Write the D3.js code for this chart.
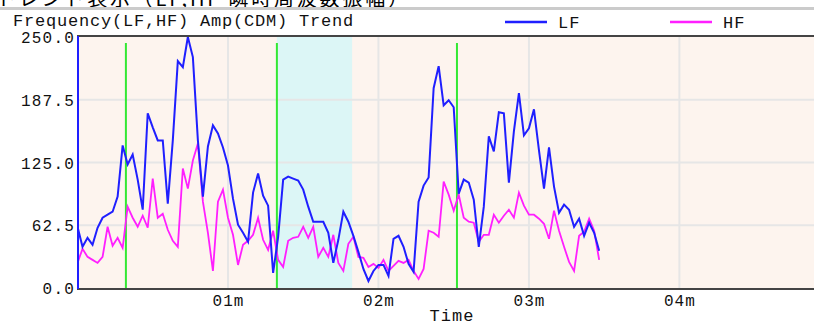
<!DOCTYPE html>
<html>
<head>
<meta charset="utf-8">
<script src="https://cdn.jsdelivr.net/npm/d3@7"></script>
<style>
  body { margin: 0; background: #fff; }
  svg { display: block; }
  .mono { font-family: "Liberation Mono", "DejaVu Sans Mono", monospace; fill: #111; }
</style>
</head>
<body>
<div id="chart"></div>
<script>
var sampleSec = 2;
var lfValues = [61,41,50,43,60,70,73,76,91,142,123,133,108,78,174,160,147,147,84,147,
  226,220,250,230,147,91,141,162,154,140,122,89,63,55,46,95,114,92,82,15,
  51,108,111,109,107,98,81,66,66,66,55,25,48,76,66,52,36,19,7,17,
  23,23,12,49,52,41,24,16,86,102,110,199,221,182,187,180,94,108,105,88,
  41,81,151,136,175,174,105,156,194,152,159,178,137,99,140,101,75,83,78,61,
  69,52,65,55,37];
var hfValues = [25,39,31,28,25,31,61,42,50,40,81,70,61,72,60,109,70,74,58,47,
  41,119,99,127,144,86,55,17,86,98,70,53,23,43,47,53,70,48,38,57,
  28,21,47,50,51,61,50,61,31,40,31,53,25,17,44,51,31,30,21,24,
  20,28,17,22,27,25,28,17,9,19,57,55,51,106,93,77,93,70,66,65,
  46,53,53,73,65,72,78,70,95,82,73,73,69,64,49,77,57,41,26,17,
  52,56,69,57,28];

var yTicks = [0, 62.5, 125, 187.5, 250];
var xTicks = [60, 120, 180, 240];
var xTickLabels = ["01m", "02m", "03m", "04m"];
var markerSecs = [19.3, 79.5, 151.3];   // green event lines
var bandSecs = [79.5, 109.5];           // cyan section

var W = 814, H = 326;
var svg = d3.select("#chart").append("svg")
  .attr("width", W).attr("height", H);

var x = d3.scaleLinear().domain([0, 300]).range([77.5, 77.5 + 300 * 2.508]);
var y = d3.scaleLinear().domain([0, 250]).range([288, 37]);
var plotL = 77, plotT = 36, plotB = 289, plotR = x(300);

// header (cut off at the top like the source screenshot)
svg.append("text")
  .attr("x", -4).attr("y", 6)
  .style("font-family", "'Noto Sans CJK JP', sans-serif")
  .style("font-size", "20px")
  .attr("textLength", 412)
  .text("トレンド表示（LF,HF 瞬時周波数振幅）");
svg.append("rect").attr("x", 0).attr("y", 7).attr("width", W).attr("height", 3).attr("fill", "#cbcbcb");

svg.append("text").attr("class", "mono")
  .attr("x", 13).attr("y", 26)
  .style("font-size", "17px").style("letter-spacing", "0.8px")
  .text("Frequency(LF,HF) Amp(CDM) Trend");

// legend
var legend = [{ name: "LF", color: "#1f1fff", x: 505 }, { name: "HF", color: "#ff1fff", x: 670 }];
legend.forEach(function (d) {
  svg.append("line")
    .attr("x1", d.x).attr("x2", d.x + 42).attr("y1", 22).attr("y2", 22)
    .attr("stroke", d.color).attr("stroke-width", 2.5);
  svg.append("text").attr("class", "mono")
    .attr("x", d.x + 53).attr("y", 28)
    .style("font-size", "17px").style("letter-spacing", "1px")
    .text(d.name);
});

// plot background
svg.append("rect")
  .attr("x", plotL).attr("y", plotT).attr("width", plotR - plotL).attr("height", plotB - plotT)
  .attr("fill", "#fdf4ee");
svg.append("rect")
  .attr("x", x(bandSecs[0])).attr("y", plotT)
  .attr("width", x(bandSecs[1]) - x(bandSecs[0])).attr("height", plotB - plotT)
  .attr("fill", "#dcf6f6");

// grid
svg.selectAll(".vgrid").data(xTicks).enter().append("line")
  .attr("x1", function (d) { return x(d); }).attr("x2", function (d) { return x(d); })
  .attr("y1", plotT).attr("y2", plotB)
  .attr("stroke", "#e6e6e6").attr("stroke-width", 2);
svg.selectAll(".hgrid").data(yTicks.slice(1, 4)).enter().append("line")
  .attr("x1", plotL).attr("x2", plotR)
  .attr("y1", function (d) { return y(d); }).attr("y2", function (d) { return y(d); })
  .attr("stroke", "#e6e6e6").attr("stroke-width", 2);

// event markers
svg.selectAll(".marker").data(markerSecs).enter().append("line")
  .attr("x1", function (d) { return x(d); }).attr("x2", function (d) { return x(d); })
  .attr("y1", 43).attr("y2", plotB)
  .attr("stroke", "#33e833").attr("stroke-width", 2);

// series
svg.append("clipPath").attr("id", "clip").append("rect")
  .attr("x", plotL).attr("y", plotT).attr("width", plotR - plotL).attr("height", plotB - plotT);

var line = d3.line()
  .x(function (d, i) { return x(i * sampleSec); })
  .y(function (d) { return y(d); });

svg.append("path").datum(hfValues)
  .attr("clip-path", "url(#clip)")
  .attr("fill", "none").attr("stroke", "#ff1fff").attr("stroke-width", 1.8)
  .attr("d", line);
svg.append("path").datum(lfValues)
  .attr("clip-path", "url(#clip)")
  .attr("fill", "none").attr("stroke", "#1f1fff").attr("stroke-width", 2)
  .attr("d", line);

// frame
svg.append("line").attr("x1", plotL).attr("x2", plotR).attr("y1", plotT).attr("y2", plotT)
  .attr("stroke", "#444").attr("stroke-width", 2);
svg.append("line").attr("x1", plotL).attr("x2", plotR).attr("y1", plotB).attr("y2", plotB)
  .attr("stroke", "#444").attr("stroke-width", 2);
svg.append("line").attr("x1", plotL + 1).attr("x2", plotL + 1).attr("y1", plotT).attr("y2", plotB)
  .attr("stroke", "#1f1fff").attr("stroke-width", 2);

// axes
var yAxis = svg.append("g")
  .attr("transform", "translate(" + (plotL - 2) + ",0)")
  .call(d3.axisLeft(y).tickValues(yTicks).tickFormat(d3.format(".1f")).tickSize(0).tickPadding(0));
yAxis.select(".domain").remove();
yAxis.selectAll("text").attr("class", "mono")
  .style("font-size", "16px").style("letter-spacing", "1.2px").attr("dy", "0.35em");

var xAxis = svg.append("g")
  .attr("transform", "translate(0," + plotB + ")")
  .call(d3.axisBottom(x).tickValues(xTicks)
    .tickFormat(function (d, i) { return xTickLabels[i]; }).tickSize(0).tickPadding(6));
xAxis.select(".domain").remove();
xAxis.selectAll("text").attr("class", "mono")
  .style("font-size", "16px").style("letter-spacing", "1px");

svg.append("text").attr("class", "mono")
  .attr("x", 452).attr("y", 321).attr("text-anchor", "middle")
  .style("font-size", "17px").style("letter-spacing", "1px")
  .text("Time");
</script>
</body>
</html>
